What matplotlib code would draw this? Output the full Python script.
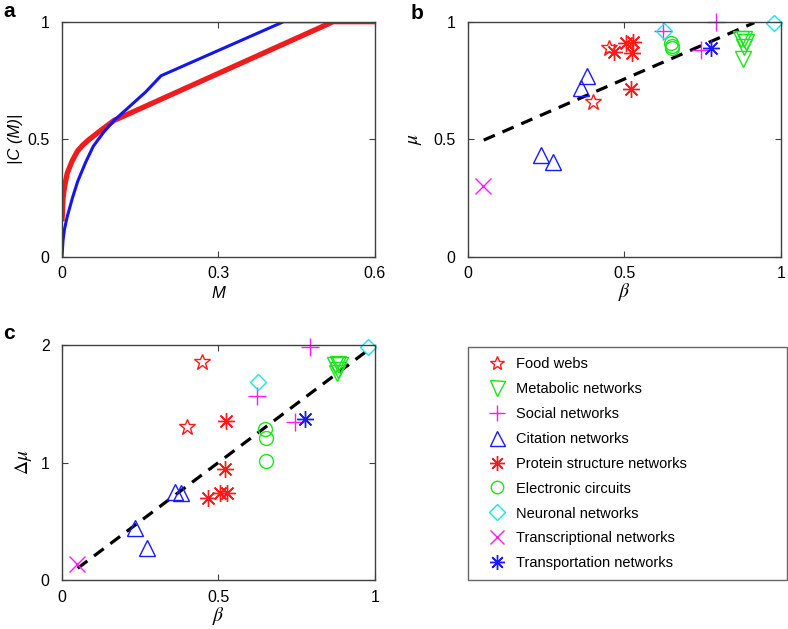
import matplotlib
matplotlib.use('Agg')
import matplotlib.pyplot as plt
import numpy as np

plt.rcParams['font.family'] = ['Liberation Sans', 'DejaVu Sans']
plt.rcParams['mathtext.fontset'] = 'stix'

# panel a: |C(M)| curves
m_red = [0, 0.002, 0.005, 0.01, 0.02, 0.03, 0.04, 0.05, 0.07, 0.1, 0.52, 0.6]
c_red = [0.15, 0.25, 0.30, 0.355, 0.41, 0.45, 0.475, 0.495, 0.53, 0.58, 1.0, 1.0]
m_blue = [0, 0.002, 0.005, 0.01, 0.02, 0.03, 0.045, 0.06, 0.08, 0.1, 0.13, 0.16, 0.19, 0.425, 0.6]
c_blue = [0, 0.07, 0.12, 0.17, 0.25, 0.32, 0.40, 0.47, 0.53, 0.58, 0.64, 0.70, 0.77, 1.0, 1.0]

# panels b and c: network classes
names = ['Food webs', 'Metabolic networks', 'Social networks', 'Citation networks',
         'Protein structure networks', 'Electronic circuits', 'Neuronal networks',
         'Transcriptional networks', 'Transportation networks']
beta = [
    [0.40, 0.449],
    [0.872, 0.882, 0.888, 0.881, 0.878],
    [0.624, 0.793, 0.745],
    [0.234, 0.272, 0.362, 0.379],
    [0.468, 0.505, 0.526, 0.522, 0.525],
    [0.649, 0.651, 0.653],
    [0.625, 0.977],
    [0.048],
    [0.776],
]
mu = [
    [0.66, 0.889],
    [0.928, 0.928, 0.914, 0.893, 0.843],
    [0.962, 0.997, 0.88],
    [0.433, 0.404, 0.716, 0.769],
    [0.872, 0.908, 0.915, 0.712, 0.865],
    [0.908, 0.896, 0.89],
    [0.962, 0.995],
    [0.301],
    [0.889],
]
dmu = [
    [1.30, 1.858],
    [1.83, 1.835, 1.83, 1.79, 1.76],
    [1.566, 1.986, 1.348],
    [0.44, 0.275, 0.752, 0.738],
    [0.70, 0.743, 0.743, 0.942, 1.353],
    [1.282, 1.206, 1.016],
    [1.682, 1.986],
    [0.133],
    [1.37],
]
fit_b_x = [0.05, 0.915]
fit_b_y = [0.496, 0.996]
fit_c_x = [0.05, 0.975]
fit_c_y = [0.10, 1.95]

colors = ['#ff1a1a', '#19e619', '#ff19ff', '#1a1aff', '#ff1a1a', '#19e619', '#19e6e6', '#ff19ff', '#1a1aff']
markers = ['*', 'v', '+', '^', (8, 2, 0), 'o', 'D', 'x', (8, 2, 0)]
sizes = [12, 12, 13, 12, 12, 10, 8.5, 11, 12]

fig = plt.figure(figsize=(7.88, 6.29), dpi=100)
ax_a = fig.add_axes([0.0787, 0.592, 0.397, 0.3735])
ax_b = fig.add_axes([0.594, 0.592, 0.397, 0.3735])
ax_c = fig.add_axes([0.0787, 0.0779, 0.397, 0.3736])


def style(ax):
    for s in ax.spines.values():
        s.set_color('#404040')
        s.set_linewidth(1.0)
    ax.tick_params(direction='in', top=True, right=True, length=4, width=0.8,
                   color='#404040', labelsize=11.5)
    ax.tick_params(axis='x', pad=7)
    ax.tick_params(axis='y', pad=9)


ax_a.plot(m_red, c_red, color='#ee1c1c', lw=3.8, solid_capstyle='butt')
ax_a.plot(m_blue, c_blue, color='#1515f0', lw=2.2)
ax_a.set_xlim(0, 0.6)
ax_a.set_ylim(0, 1)
ax_a.set_xticks([0, 0.3, 0.6])
ax_a.set_xticklabels(['0', '0.3', '0.6'])
ax_a.set_yticks([0, 0.5, 1])
ax_a.set_yticklabels(['0', '0.5', '1'])
ax_a.set_xlabel('M', fontstyle='italic', fontsize=12, labelpad=3)
ax_a.set_ylabel('|C (M)|', fontstyle='italic', fontsize=12, labelpad=3)
style(ax_a)

handles = []
for ax, yvals in [(ax_b, mu), (ax_c, dmu)]:
    for i in range(len(names)):
        h, = ax.plot(beta[i], yvals[i], linestyle='none', marker=markers[i],
                     markersize=sizes[i], markerfacecolor='none',
                     markeredgecolor=colors[i], markeredgewidth=1.0,
                     label=names[i], clip_on=False)
        if ax is ax_c:
            handles.append(h)

ax_b.plot(fit_b_x, fit_b_y, color='black', lw=2.3, dashes=(3.8, 2.6), zorder=1)
ax_c.plot(fit_c_x, fit_c_y, color='black', lw=2.3, dashes=(3.8, 2.6), zorder=1)

for ax in (ax_b, ax_c):
    ax.set_xlim(0, 1)
    ax.set_xticks([0, 0.5, 1])
    ax.set_xticklabels(['0', '0.5', '1'])
    ax.set_xlabel(r'$\beta$', fontsize=14, labelpad=0)
    style(ax)

ax_b.set_ylim(0, 1)
ax_b.set_yticks([0, 0.5, 1])
ax_b.set_yticklabels(['0', '0.5', '1'])
ax_b.set_ylabel(r'$\mu$', fontsize=14, labelpad=7)

ax_c.set_ylim(0, 2)
ax_c.set_yticks([0, 1, 2])
ax_c.set_yticklabels(['0', '1', '2'])
ax_c.set_ylabel(r'$\Delta\mu$', fontsize=14, labelpad=5)

leg = fig.legend(handles=handles, loc='upper left',
                 bbox_to_anchor=(0.594, 0.0779, 0.405, 0.370), mode='expand',
                 borderaxespad=0, fontsize=10.5, labelspacing=0.75,
                 handlelength=2.6, handletextpad=0.05, borderpad=0.66,
                 frameon=True, fancybox=False, edgecolor='#404040')
leg.get_frame().set_linewidth(1.0)
for h in leg.legend_handles:
    h.set_markersize(h.get_markersize() * 0.9)

fig.text(0.004, 0.982, 'a', fontsize=15, fontweight='bold', va='center')
fig.text(0.521, 0.978, 'b', fontsize=15, fontweight='bold', va='center')
fig.text(0.004, 0.470, 'c', fontsize=15, fontweight='bold', va='center')

fig.savefig('out.png', dpi=100)
